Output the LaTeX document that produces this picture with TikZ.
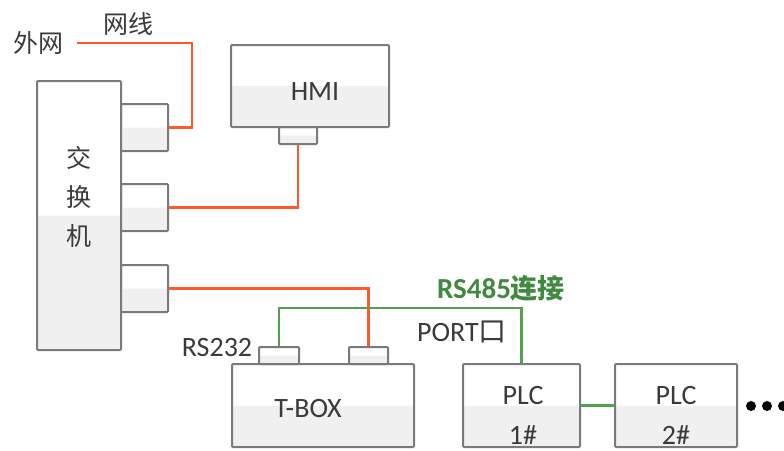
\documentclass[tikz,border=0pt]{standalone}
\usepackage{fontspec}
\setmainfont{Carlito}
\newfontfamily\cjk{Noto Sans CJK SC}
\begin{document}
\definecolor{boxborder}{HTML}{7A7A7A}
\definecolor{boxgray}{HTML}{F0F0F0}
\definecolor{txt}{HTML}{3A3A3A}
\definecolor{redline}{RGB}{255,88,48}
\definecolor{greenline}{HTML}{55A04C}
\definecolor{greentxt}{HTML}{3F8A3F}
\begin{tikzpicture}[x=1pt,y=-1pt,
  box/.style={draw=boxborder,line width=2pt,rounded corners=1pt,inner sep=0pt,
    path picture={\fill[boxgray] (path picture bounding box.west) rectangle (path picture bounding box.south east);}},
  lab/.style={text=txt,font=\fontsize{28}{30}\selectfont,inner sep=0pt},
  cjklab/.style={text=txt,font=\cjk\fontsize{25}{30}\selectfont,inner sep=0pt},
  redw/.style={draw=redline,line width=2.2pt},
  greenw/.style={draw=greenline,line width=2.1pt}]
\useasboundingbox (0,0) rectangle (784,450);
% switch
\node[box,minimum width=84,minimum height=269] (sw) at (79,215.5) {};
\node[box,minimum width=47,minimum height=47] (p1) at (144.5,127.5) {};
\node[box,minimum width=47,minimum height=47] (p2) at (144.5,207.5) {};
\node[box,minimum width=47,minimum height=47] (p3) at (144.5,288.5) {};
\node[cjklab] (s1) at (79,158) {交};
\node[cjklab] (s2) at (79,197) {换};
\node[cjklab] (s3) at (79,236) {机};
% HMI
\node[box,minimum width=158,minimum height=82] (hmi) at (310,86) {};
\node[lab] (hmit) at (315,92) {HMI};
\node[box,minimum width=38,minimum height=17] (hp) at (298,135.5) {};
% T-BOX
\node[box,minimum width=182,minimum height=83] (tbox) at (323,405.5) {};
\node[lab] (tboxt) at (308,409) {T-BOX};
\node[box,minimum width=40,minimum height=17] (tp1) at (279,355.5) {};
\node[box,minimum width=39,minimum height=17] (tp2) at (368.5,355.5) {};
% PLCs
\node[box,minimum width=117,minimum height=83] (plc1) at (521.5,405.5) {};
\node[lab] (plc1a) at (523,396) {PLC};
\node[lab] (plc1b) at (523,435) {1\#};
\node[box,minimum width=122,minimum height=83] (plc2) at (676,405.5) {};
\node[lab] (plc2a) at (676,396) {PLC};
\node[lab] (plc2b) at (676,435) {2\#};
% labels
\node[cjklab] (wai) at (38,43) {外网};
\node[cjklab] (wx) at (128,24) {网线};
\node[lab] (rs232) at (217,348) {RS232};
\node[lab] (port) at (462,332) {PORT{\cjk 口}};
\node[inner sep=0pt,text=greentxt,font=\bfseries\fontsize{29}{30}\selectfont] (rs485) at (501,288) {RS485{\cjk\fontsize{27}{30}\selectfont 连接}};
% dots
\fill[black] (751,406) circle (5) (767,406) circle (5) (783,406) circle (5);
% red wires
\coordinate (ext) at (77,43);
\draw[redw] (ext) -- (192,43) |- (p1.east);
\draw[redw] (hp.south) |- (p2.east);
\draw[redw] (p3.east) -| (tp2.north);
% green wires
\draw[greenw] (tp1.north) |- (521.5,308) -- (plc1.north);
\draw[greenw] (plc1.east) -- (plc2.west);
\end{tikzpicture}
\end{document}
